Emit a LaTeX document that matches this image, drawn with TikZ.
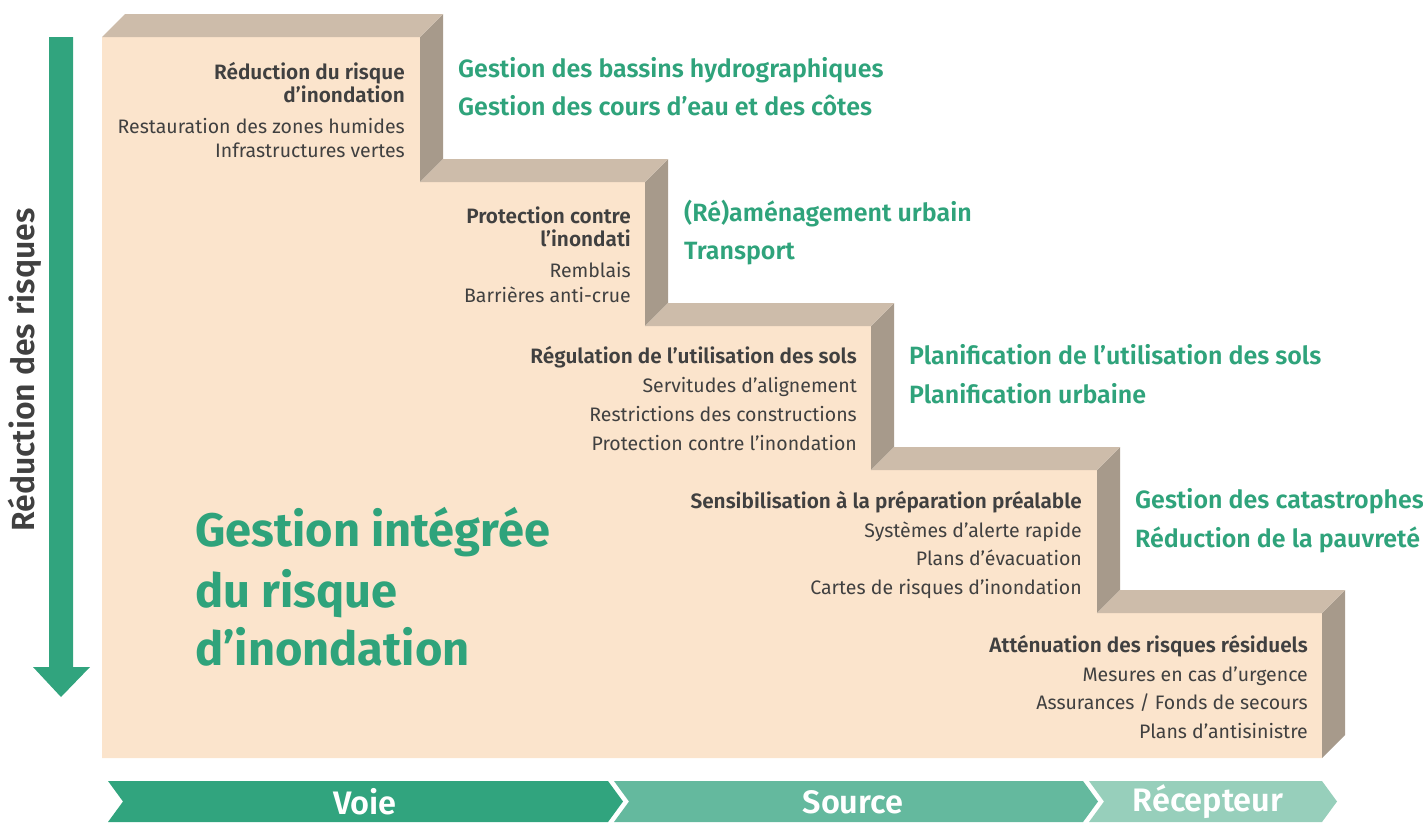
\documentclass[tikz,border=0pt]{standalone}
\usepackage{fontspec}
\setmainfont{Fira Sans}
\newfontfamily\semi{Fira Sans SemiBold}
\definecolor{peach}{HTML}{FBE4CC}
\definecolor{topc}{HTML}{CDBCAA}
\definecolor{sidec}{HTML}{A79A8B}
\definecolor{txt}{HTML}{404040}
\definecolor{grn}{HTML}{2FA37B}
\definecolor{chA}{HTML}{31A47E}
\definecolor{chB}{HTML}{64B99E}
\definecolor{chC}{HTML}{97CFBB}
\tikzset{
  tbold/.style={anchor=base east, inner sep=0pt, text=txt, font=\semi\fontsize{20.8}{22}\selectfont},
  treg/.style={anchor=base east, inner sep=0pt, text=txt, font=\fontsize{19.5}{21}\selectfont},
  tgreen/.style={anchor=base west, inner sep=0pt, text=grn, font=\semi\fontsize{25}{27}\selectfont},
  tbig/.style={anchor=base west, inner sep=0pt, text=grn, font=\bfseries\fontsize{47}{50}\selectfont},
  tchev/.style={inner sep=0pt, text=white, font=\semi\fontsize{32.5}{34}\selectfont},
}
\begin{document}
\begin{tikzpicture}[x=1pt,y=-1pt]
\useasboundingbox (0,0) rectangle (1423,823);
% front face
\fill[peach] (102,37) -- (420,37) -- (420,182) -- (645,182) -- (645,326) -- (871,326) -- (871,470) -- (1097,470) -- (1097,613) -- (1322,613) -- (1322,758) -- (102,758) -- cycle;
% side faces
\fill[sidec] (420,37) -- (443,14) -- (443,159) -- (420,182) -- cycle;
\fill[sidec] (645,182) -- (668,159) -- (668,303) -- (645,326) -- cycle;
\fill[sidec] (871,326) -- (894,303) -- (894,447) -- (871,470) -- cycle;
\fill[sidec] (1097,470) -- (1120,447) -- (1120,590) -- (1097,613) -- cycle;
\fill[sidec] (1322,613) -- (1345,590) -- (1345,735) -- (1322,758) -- cycle;
% top faces
\fill[topc] (102,37) -- (125,14) -- (443,14) -- (420,37) -- cycle;
\fill[topc] (420,182) -- (443,159) -- (668,159) -- (645,182) -- cycle;
\fill[topc] (645,326) -- (668,303) -- (894,303) -- (871,326) -- cycle;
\fill[topc] (871,470) -- (894,447) -- (1120,447) -- (1097,470) -- cycle;
\fill[topc] (1097,613) -- (1120,590) -- (1345,590) -- (1322,613) -- cycle;
% left arrow
\fill[chA] (49,37) -- (73,37) -- (73,667) -- (90,667) -- (61,697) -- (33,667) -- (49,667) -- cycle;
\node[rotate=90, inner sep=0pt, text=txt, font=\semi\fontsize{32}{34}\selectfont] (vlab) at (25,370) {Réduction des risques};
% step 1
\node[tbold] (s1a) at (405,79) {Réduction du risque};
\node[tbold] (s1b) at (405,102) {d’inondation};
\node[treg] (s1c) at (405,133) {Restauration des zones humides};
\node[treg] (s1d) at (405,157) {Infrastructures vertes};
% step 2
\node[tbold] (s2a) at (631,223) {Protection contre};
\node[tbold] (s2b) at (631,246) {l’inondati};
\node[treg] (s2c) at (631,277) {Remblais};
\node[treg] (s2d) at (631,302) {Barrières anti-crue};
% step 3
\node[tbold] (s3a) at (857,363) {Régulation de l’utilisation des sols};
\node[treg] (s3b) at (857,392) {Servitudes d’alignement};
\node[treg] (s3c) at (857,421) {Restrictions des constructions};
\node[treg] (s3d) at (857,450) {Protection contre l’inondation};
% step 4
\node[tbold] (s4a) at (1082,508) {Sensibilisation à la préparation préalable};
\node[treg] (s4b) at (1082,537) {Systèmes d’alerte rapide};
\node[treg] (s4c) at (1082,565) {Plans d’évacuation};
\node[treg] (s4d) at (1082,594) {Cartes de risques d’inondation};
% step 5
\node[tbold] (s5a) at (1308,652) {Atténuation des risques résiduels};
\node[treg] (s5b) at (1308,681) {Mesures en cas d’urgence};
\node[treg] (s5c) at (1308,709) {Assurances / Fonds de secours};
\node[treg] (s5d) at (1308,738) {Plans d’antisinistre};
% green labels
\node[tgreen] (g1a) at (458,77) {Gestion des bassins hydrographiques};
\node[tgreen] (g1b) at (458,115) {Gestion des cours d’eau et des côtes};
\node[tgreen] (g2a) at (684,221) {(Ré)aménagement urbain};
\node[tgreen] (g2b) at (684,259) {Transport};
\node[tgreen] (g3a) at (909,364) {Planification de l’utilisation des sols};
\node[tgreen] (g3b) at (909,403) {Planification urbaine};
\node[tgreen] (g4a) at (1135,508) {Gestion des catastrophes};
\node[tgreen] (g4b) at (1135,547) {Réduction de la pauvreté};
% big text
\node[tbig] (b1) at (195,546) {Gestion intégrée};
\node[tbig] (b2) at (195,607) {du risque};
\node[tbig] (b3) at (195,665) {d’inondation};
% chevrons
\fill[chA] (108,781) -- (608,781) -- (623,801.5) -- (608,822) -- (108,822) -- (123,801.5) -- cycle;
\fill[chB] (614,781) -- (1083,781) -- (1098,801.5) -- (1083,822) -- (614,822) -- (629,801.5) -- cycle;
\fill[chC] (1089,781) -- (1322,781) -- (1337,801.5) -- (1322,822) -- (1089,822) -- (1104,801.5) -- cycle;
\node[tchev] (c1) at (365,802) {Voie};
\node[tchev] (c2) at (853,802) {Source};
\node[tchev] (c3) at (1208,802) {Récepteur};
\end{tikzpicture}
\end{document}
